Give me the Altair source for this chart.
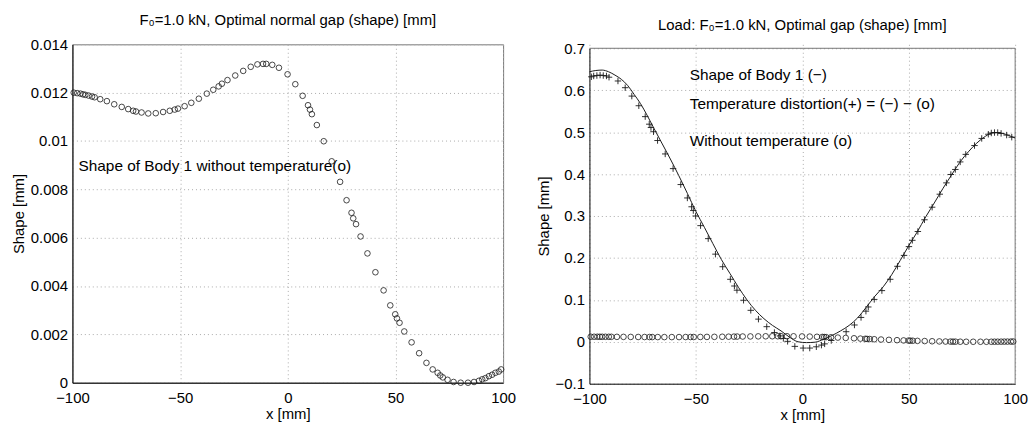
import altair as alt
import pandas as pd

# ---------------- data ----------------
# Shape of body 1 without temperature (o)  -- x [mm], shape [mm]
x_nodes = [-99.4, -97.8, -96.3, -95.1, -94.0, -92.5, -90.9, -89.7, -87.1, -84.0,
           -80.6, -77.1, -74.1, -71.8, -70.5, -67.9, -64.8, -61.3, -57.9, -54.8,
           -52.5, -51.0, -47.9, -44.8, -41.3, -37.6, -34.6, -32.1, -30.6, -28.0,
           -24.4, -20.7, -17.2, -14.1, -11.5, -10.0, -7.2, -4.1, -0.1, 3.5,
           6.9, 9.4, 10.3, 11.2, 13.5, 16.7, 20.4, 24.3, 27.3, 29.6,
           30.4, 31.7, 33.8, 37.0, 40.7, 44.5, 47.6, 49.9, 50.7, 51.9,
           54.1, 57.5, 61.0, 64.4, 67.3, 69.6, 70.8, 72.0, 74.2, 77.0,
           80.3, 83.7, 86.5, 88.8, 90.3, 91.8, 93.4, 94.9, 96.4, 98.0, 99.1]
shape_no_temp = [0.01200, 0.01198, 0.01196, 0.01193, 0.01191, 0.01188, 0.01184, 0.01181, 0.01173, 0.01165,
                 0.01152, 0.01141, 0.01132, 0.01125, 0.01122, 0.01118, 0.01114, 0.01115, 0.01120, 0.01125,
                 0.01130, 0.01134, 0.01144, 0.01158, 0.01175, 0.01196, 0.01212, 0.01226, 0.01237, 0.01252,
                 0.01271, 0.01290, 0.01307, 0.01317, 0.01319, 0.01319, 0.01315, 0.01303, 0.01276, 0.01235,
                 0.01187, 0.01148, 0.01130, 0.01111, 0.01066, 0.00999, 0.00916, 0.00831, 0.00755, 0.00703,
                 0.00680, 0.00656, 0.00605, 0.00535, 0.00457, 0.00382, 0.00320, 0.00283, 0.00266, 0.00248,
                 0.00212, 0.00167, 0.00122, 0.00082, 0.00055, 0.00041, 0.00030, 0.00022, 0.00012, 0.00003,
                 0.00000, 0.00000, 0.00003, 0.00008, 0.00014, 0.00019, 0.00027, 0.00033, 0.00041, 0.00046, 0.00055]

# Shape of Body 1 (-)  -- solid line
x_body = [-100, -97, -94, -91, -88, -85, -82, -79, -76, -73,
          -70, -66, -62, -58, -54, -50, -46, -42, -38, -34,
          -30, -26, -22, -18, -14, -10, -6, -2, 2, 6,
          10, 14, 18, 22, 26, 30, 34, 38, 42, 46,
          50, 54, 58, 62, 66, 70, 74, 78, 82, 86,
          90, 94, 97, 100]
shape_body = [0.644, 0.647, 0.648, 0.644, 0.636, 0.626, 0.611, 0.590, 0.568, 0.541,
              0.512, 0.474, 0.436, 0.396, 0.354, 0.311, 0.273, 0.234, 0.196, 0.163,
              0.130, 0.100, 0.075, 0.055, 0.039, 0.026, 0.011, 0.000, -0.002, -0.001,
              0.006, 0.015, 0.026, 0.039, 0.057, 0.082, 0.108, 0.131, 0.160, 0.194,
              0.229, 0.262, 0.298, 0.331, 0.365, 0.397, 0.428, 0.453, 0.474, 0.490,
              0.499, 0.497, 0.492, 0.486]

# Temperature distortion (+) = (-) - (o)
x_dist = [-99.1, -98.0, -96.5, -95.0, -93.5, -92.0, -90.8, -86.6, -83.2, -80.1,
          -76.8, -73.8, -71.9, -71.1, -69.9, -68.0, -64.4, -60.7, -57.1, -54.0,
          -52.0, -51.2, -50.1, -47.8, -44.2, -40.8, -37.4, -33.8, -31.9, -30.7,
          -27.6, -24.2, -20.6, -16.7, -13.1, -10.5, -8.9, -6.9, -3.5, 0.4,
          3.5, 6.6, 9.0, 10.5, 13.6, 20.6, 24.5, 27.6, 29.9, 31.0,
          33.8, 37.4, 41.3, 44.7, 47.8, 50.1, 51.7, 54.3, 57.4, 61.0,
          64.6, 67.7, 69.8, 71.9, 74.2, 76.8, 80.9, 84.3, 87.4, 88.8,
          90.3, 91.8, 93.4, 96.0, 98.4]
shape_dist = [0.632, 0.634, 0.635, 0.636, 0.635, 0.634, 0.631, 0.622, 0.606, 0.586,
              0.563, 0.537, 0.519, 0.511, 0.501, 0.480, 0.448, 0.413, 0.375, 0.343,
              0.322, 0.313, 0.300, 0.277, 0.246, 0.209, 0.179, 0.149, 0.133, 0.123,
              0.099, 0.075, 0.054, 0.036, 0.022, 0.014, 0.008, 0.001, -0.011, -0.015,
              -0.015, -0.012, -0.008, -0.005, 0.003, 0.024, 0.040, 0.058, 0.073, 0.083,
              0.101, 0.122, 0.149, 0.180, 0.206, 0.227, 0.242, 0.263, 0.291, 0.321,
              0.352, 0.379, 0.399, 0.411, 0.429, 0.447, 0.468, 0.485, 0.495, 0.498,
              0.499, 0.499, 0.497, 0.493, 0.488]

left_title = "F₀=1.0 kN, Optimal normal gap (shape) [mm]"
right_title = "Load: F₀=1.0 kN, Optimal gap (shape) [mm]"
left_note = ["Shape of Body 1 without temperature(o)"]
left_note_x = [-97.2]
left_note_y = [0.00895]
right_notes = ["Shape of Body 1 (−)", "Temperature distortion(+) = (−) − (o)", "Without temperature (o)"]
right_notes_x = [-52.9, -52.9, -52.9]
right_notes_y = [0.636, 0.567, 0.478]

left_yticks = [0, 0.002, 0.004, 0.006, 0.008, 0.01, 0.012, 0.014]
right_yticks = [-0.1, 0, 0.1, 0.2, 0.3, 0.4, 0.5, 0.6, 0.7]
xticks = [-100, -50, 0, 50, 100]

# frame edges (top and right) of the right panel, in data units
frame_x = [-100, 100]
frame_x2 = [100, 100]
frame_y = [0.7, -0.1]
frame_y2 = [0.7, 0.7]

# ---------------- tables ----------------
df_o = pd.DataFrame({"x": x_nodes, "y": shape_no_temp})
df_line = pd.DataFrame({"x": x_body, "y": shape_body})
df_plus = pd.DataFrame({"x": x_dist, "y": shape_dist})
df_lnote = pd.DataFrame({"x": left_note_x, "y": left_note_y, "t": left_note})
df_rnote = pd.DataFrame({"x": right_notes_x, "y": right_notes_y, "t": right_notes})
df_frame = pd.DataFrame({"x": frame_x, "x2": frame_x2, "y": frame_y, "y2": frame_y2})

FONT = "Liberation Sans"
INK = "#1a1a1a"
PLUS = "M-1,0L1,0M0,-1L0,1"

xscale = alt.Scale(domain=[-100, 100], nice=False)
xenc = alt.X("x:Q", scale=xscale,
             axis=alt.Axis(values=xticks, title="x [mm]", format="d", labelFlush=False))

# ---------------- left panel ----------------
l_y = alt.Y("y:Q", scale=alt.Scale(domain=[0, 0.014], nice=False),
            axis=alt.Axis(values=left_yticks, title="Shape [mm]", format=".3~f"))
left_pts = alt.Chart(df_o).mark_point(shape="circle", filled=False, size=32,
                                      color=INK, strokeWidth=0.8, opacity=1).encode(x=xenc, y=l_y)
left_txt = alt.Chart(df_lnote).mark_text(align="left", baseline="middle", font=FONT,
                                         fontSize=15.5, color="black").encode(
    x=alt.X("x:Q", scale=xscale), y="y:Q", text="t:N")
left = alt.layer(left_pts, left_txt).properties(
    width=434, height=341,
    title=alt.TitleParams(left_title, font=FONT, fontSize=15, fontWeight="normal",
                          color="black", offset=9))

# ---------------- right panel ----------------
r_yscale = alt.Scale(domain=[-0.1, 0.7], nice=False, range=[342, 4])
r_y = alt.Y("y:Q", scale=r_yscale,
            axis=alt.Axis(values=right_yticks, title="Shape [mm]", format=".1~f"))
r_frame = alt.Chart(df_frame).mark_rule(color="#777777", strokeWidth=1).encode(
    x=alt.X("x:Q", scale=xscale), x2="x2:Q", y=alt.Y("y:Q", scale=r_yscale), y2="y2:Q")
r_line = alt.Chart(df_line).mark_line(color=INK, strokeWidth=1, interpolate="monotone").encode(
    x=xenc, y=r_y)
r_plus = alt.Chart(df_plus).mark_point(shape=PLUS, filled=False, size=42,
                                       color=INK, strokeWidth=0.9, opacity=1).encode(x=xenc, y=r_y)
r_o = alt.Chart(df_o).mark_point(shape="circle", filled=False, size=32,
                                 color=INK, strokeWidth=0.8, opacity=1).encode(x=xenc, y=r_y)
r_txt = alt.Chart(df_rnote).mark_text(align="left", baseline="middle", font=FONT,
                                      fontSize=15.5, color="black").encode(
    x=alt.X("x:Q", scale=xscale), y=alt.Y("y:Q", scale=r_yscale), text="t:N")
right = alt.layer(r_frame, r_line, r_plus, r_o, r_txt).properties(
    width=429, height=342,
    view=alt.ViewBackground(stroke="transparent"),
    title=alt.TitleParams(right_title, font=FONT, fontSize=15, fontWeight="normal",
                          color="black", offset=9, dy=1))

chart = alt.hconcat(left, right, spacing=18).properties(
    padding={"left": 10, "top": 11, "right": 5, "bottom": 5}
).configure_view(
    stroke="#777777", strokeWidth=1
).configure_axis(
    labelFont=FONT, titleFont=FONT, labelFontSize=15, titleFontSize=15,
    labelColor="black", titleColor="black", titleFontWeight="normal",
    domainColor="black", domainWidth=1, ticks=False, labelPadding=5,
    grid=True, gridColor="#aaaaaa", gridDash=[1, 3], gridWidth=1,
).configure_axisY(
    titlePadding=4
).configure_axisX(
    titlePadding=1, labelPadding=8
).configure_title(anchor="middle")

chart.save("out.html", embed_options={"renderer": "svg", "actions": False})
